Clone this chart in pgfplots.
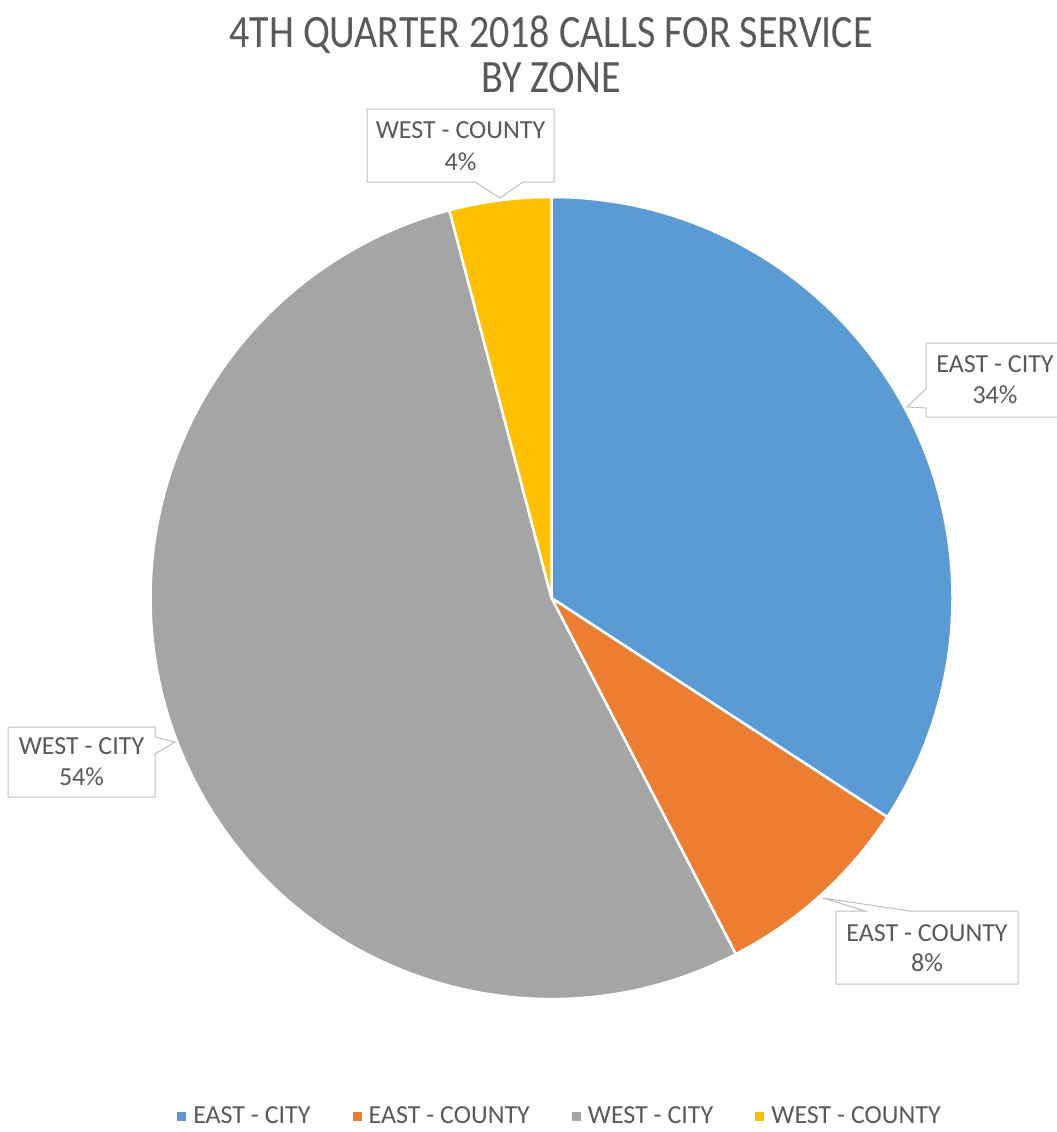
\documentclass[border=0pt]{standalone}
\usepackage{graphicx}
\usepackage{fontspec}
\setmainfont{Carlito}
\usepackage{pgfplots}
\usepackage{pgfplotstable}
\pgfplotsset{compat=1.18}
\definecolor{cEC}{HTML}{5B9BD5}
\definecolor{cECo}{HTML}{ED7D31}
\definecolor{cWC}{HTML}{A5A5A5}
\definecolor{cWCo}{HTML}{FFC000}
\definecolor{txt}{HTML}{595959}
\definecolor{bordergray}{HTML}{BFBFBF}

\pgfplotstableread[col sep=comma]{
name,value,col
EAST - CITY,34.2,cEC
EAST - COUNTY,8.2,cECo
WEST - CITY,53.5,cWC
WEST - COUNTY,4.1,cWCo
}\piedata

\begin{document}
\begin{tikzpicture}
\useasboundingbox (0,0) rectangle (1057pt,1132pt);
\begin{axis}[
  at={(0,0)}, anchor=south west,
  scale only axis, width=1057pt, height=1132pt,
  xmin=0, xmax=1057, ymin=0, ymax=1132, y dir=reverse,
  hide axis, clip=false,
  legend columns=4,
  legend image code/.code={\fill[#1] (0pt,-4.5pt) rectangle (9pt,4.5pt);},
  legend style={at={(axis cs:559,1116)}, anchor=center, draw=none, fill=none,
    font=\fontsize{26}{30}\selectfont, text=txt, inner sep=0pt,
    nodes={inner sep=0pt},
    /tikz/every odd column/.append style={column sep=7pt},
    /tikz/every even column/.append style={column sep=42pt}},
]
\addlegendimage{fill=cEC, draw=none}\addlegendentry{EAST - CITY}
\addlegendimage{fill=cECo, draw=none}\addlegendentry{EAST - COUNTY}
\addlegendimage{fill=cWC, draw=none}\addlegendentry{WEST - CITY}
\addlegendimage{fill=cWCo, draw=none}\addlegendentry{WEST - COUNTY}

\gdef\cumA{90}
\pgfplotsinvokeforeach{0,1,2,3}{
  \pgfplotstablegetelem{#1}{value}\of\piedata \let\sliceval\pgfplotsretval
  \pgfplotstablegetelem{#1}{col}\of\piedata \let\slicecol\pgfplotsretval
  \pgfmathsetmacro\endA{\cumA-\sliceval*3.6}
  \edef\tmp{\noexpand\fill[\slicecol, draw=white, line width=2.5pt, line join=round]
    (axis cs:551.5,598) -- ++(\cumA:401pt) arc[start angle=\cumA, end angle=\endA, radius=401pt] -- cycle;}
  \tmp
  \global\let\cumA\endA
}

% title
\node[anchor=base, text=txt, font=\fontsize{40}{48}\selectfont] at (axis cs:551,48)
  {\scalebox{1}[1.16]{4TH QUARTER 2018 CALLS FOR SERVICE}};
\node[anchor=base, text=txt, font=\fontsize{40}{48}\selectfont] at (axis cs:551,92)
  {\scalebox{1}[1.16]{BY ZONE}};

% callouts
\tikzset{callout/.style={fill=white, draw=bordergray, line width=1pt, line join=miter}}
\tikzset{lbl/.style={anchor=base, text=txt, font=\fontsize{26}{30}\selectfont, inner sep=0pt}}
\draw[callout] (axis cs:367,109) -- (axis cs:554,109) -- (axis cs:554,182) -- (axis cs:523,182)
  -- (axis cs:500,198) -- (axis cs:475,182) -- (axis cs:367,182) -- cycle;
\node[lbl] at (axis cs:460.5,138) {WEST - COUNTY};
\node[lbl] at (axis cs:460.5,170) {4\%};

\draw[callout] (axis cs:926,343) -- (axis cs:1064,343) -- (axis cs:1064,417) -- (axis cs:926,417)
  -- (axis cs:926,408) -- (axis cs:907,407) -- (axis cs:926,389) -- cycle;
\node[lbl] at (axis cs:995,372) {EAST - CITY};
\node[lbl] at (axis cs:995,403) {34\%};

\draw[callout] (axis cs:8,727) -- (axis cs:155,727) -- (axis cs:155,737) -- (axis cs:175,742)
  -- (axis cs:155,754) -- (axis cs:155,797) -- (axis cs:8,797) -- cycle;
\node[lbl] at (axis cs:81.5,754) {WEST - CITY};
\node[lbl] at (axis cs:81.5,785) {54\%};

\draw[callout] (axis cs:836,911) -- (axis cs:865,911) -- (axis cs:823,898) -- (axis cs:910,911)
  -- (axis cs:1018,911) -- (axis cs:1018,984) -- (axis cs:836,984) -- cycle;
\node[lbl] at (axis cs:927,941) {EAST - COUNTY};
\node[lbl] at (axis cs:927,971) {8\%};
\end{axis}
\end{tikzpicture}
\end{document}
